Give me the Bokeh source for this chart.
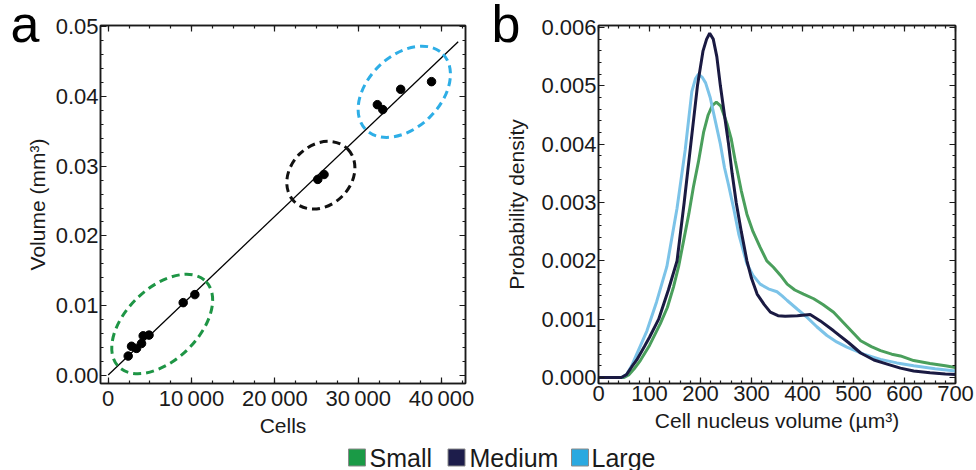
import numpy as np
from bokeh.plotting import figure
from bokeh.models import (Range1d, LinearAxis, FixedTicker, ColumnDataSource)
from bokeh.layouts import column, row
from bokeh.embed import file_html
from bokeh.resources import INLINE
from bokeh.core.properties import value

FONT = "Liberation Sans"
INK = "#1a1a1a"

# ---------------- Panel a data ----------------
cells = [2400, 2800, 3400, 4000, 4200, 4900, 9000, 10400,
         25150, 25900, 32300, 32950, 35100, 38800]
volume = [0.0028, 0.0042, 0.0039, 0.0046, 0.0057, 0.0058, 0.01045, 0.0116,
          0.0281, 0.0288, 0.0388, 0.0381, 0.0410, 0.0421]
fit_intercept = 0.0001
fit_slope = 1.136e-6
fit_cells = [0, 42000]

group_names = ["Small", "Medium", "Large"]
group_center_cells = [6480, 25520, 35530]
group_center_volume = [0.00739, 0.0287, 0.04065]

a_xticks = [0, 10000, 20000, 30000, 40000]
a_xlabels = ["0", "10\u2009000", "20\u2009000", "30\u2009000", "40\u2009000"]
a_yticks = [0, 0.01, 0.02, 0.03, 0.04, 0.05]
a_ylabels = ["0.00", "0.01", "0.02", "0.03", "0.04", "0.05"]

# ---------------- Panel b data ----------------
small_x = [0, 50, 60, 70, 82, 100, 121, 135, 147, 157, 167, 177, 186, 196, 206,
           215, 223, 231, 240, 252, 260, 268, 280, 291, 303, 317, 330, 343, 357,
           370, 385, 402, 422, 440, 461, 487, 514, 535, 553, 575, 592, 618, 650,
           680, 700]
small_y = [0, 0, 0.00005, 0.00015, 0.00029, 0.00055, 0.00092, 0.0012, 0.00155,
           0.0019, 0.00235, 0.0028, 0.00326, 0.0037, 0.0042, 0.0045, 0.00466,
           0.00472, 0.00465, 0.00435, 0.0041, 0.00372, 0.0032, 0.0028, 0.0025,
           0.00223, 0.002, 0.00189, 0.00175, 0.0016, 0.0015, 0.00143, 0.00135,
           0.00125, 0.00112, 0.00088, 0.00063, 0.00053, 0.00046, 0.0004,
           0.00037, 0.00029, 0.00024, 0.0002, 0.00017]

medium_x = [0, 45, 55, 65, 75, 90, 100, 118, 137, 154, 168, 181, 194, 205, 212,
            218, 225, 232, 239, 247, 255, 262, 270, 280, 291, 300, 311, 325, 337,
            352, 366, 390, 415, 435, 461, 490, 514, 540, 566, 592, 618, 650, 680,
            700]
medium_y = [0, 0, 0.00005, 0.00018, 0.0003, 0.00053, 0.00069, 0.001, 0.0015,
            0.002, 0.003, 0.004, 0.005, 0.0056, 0.0058, 0.0059, 0.0058, 0.0055,
            0.005, 0.0045, 0.004, 0.0035, 0.003, 0.0025, 0.002, 0.0017, 0.00143,
            0.00125, 0.00112, 0.00106, 0.00105, 0.00106, 0.00108, 0.00097,
            0.0008, 0.0006, 0.00042, 0.0003, 0.00023, 0.00016, 0.00011,
            0.00008, 0.00006, 0.00005]

large_x = [0, 45, 55, 65, 75, 95, 114, 134, 154, 170, 183, 190, 196, 203, 210,
           219, 229, 239, 247, 255, 265, 275, 283, 291, 303, 317, 333, 350, 360,
           370, 390, 409, 428, 448, 467, 487, 520, 553, 585, 618, 660, 700]
large_y = [0, 0, 0.00005, 0.0002, 0.0004, 0.0008, 0.0013, 0.0019, 0.0029,
           0.0039, 0.0049, 0.00512, 0.0052, 0.00515, 0.00505, 0.0048, 0.0044,
           0.004, 0.0036, 0.0033, 0.0029, 0.00246, 0.0022, 0.00195, 0.00175,
           0.0016, 0.00152, 0.00147, 0.0014, 0.00132, 0.00117, 0.00103,
           0.00087, 0.00072, 0.00061, 0.00052, 0.0004, 0.00031, 0.00025,
           0.0002, 0.00015, 0.00011]

b_xticks = [0, 100, 200, 300, 400, 500, 600, 700]
b_xlabels = ["0", "100", "200", "300", "400", "500", "600", "700"]
b_yticks = [0, 0.001, 0.002, 0.003, 0.004, 0.005, 0.006]
b_ylabels = ["0.000", "0.001", "0.002", "0.003", "0.004", "0.005", "0.006"]

panel_letters = ["a", "b"]

# ---------------- Styles / layout ----------------
legend_colors = ["#1a9a46", "#1d1d4b", "#2aa9e0"]
curve_colors = ["#4a9f5c", "#1a1a42", "#7cc3e8"]
ellipse_colors = ["#1e9545", "#111111", "#2eaee6"]
ellipse_w_px = [122, 75, 108]
ellipse_h_px = [72, 60, 72]
ellipse_angle = 0.77

ROW_H = 442
LEG_H = 470 - ROW_H
legend_square_x = [356.5, 456, 579.5]
legend_text_x = [369, 469, 591]


def minor_list(lo, hi, step):
    return [round(v, 6) for v in np.arange(lo, hi + step / 2, step)]


def style_axis(ax, labels=True):
    ax.axis_line_color = INK
    ax.axis_line_width = 1.5
    ax.major_tick_in = 6
    ax.major_tick_out = 0
    ax.minor_tick_in = 3
    ax.minor_tick_out = 0
    ax.major_tick_line_color = INK
    ax.minor_tick_line_color = INK
    ax.major_tick_line_width = 1.2
    ax.minor_tick_line_width = 1.2
    ax.major_label_text_font = FONT
    ax.major_label_text_color = INK
    ax.axis_label_text_font = FONT
    ax.axis_label_text_font_style = "normal"
    ax.axis_label_text_color = INK
    if labels:
        ax.major_label_text_font_size = "22px"
        ax.major_label_standoff = 2
        ax.axis_label_text_font_size = "21px"
    else:
        ax.major_label_text_font_size = "2px"
        ax.major_label_standoff = 0


def make_panel(xr, yr, xt, xl, xminor, yt, yl, yminor, xlabel, ylabel,
               border_left, border_top, frame_w, frame_h, width,
               xlab_standoff, ylab_standoff, letter, letter_offset, letter_standoff):
    p = figure(width=width, height=ROW_H, x_range=Range1d(*xr), y_range=Range1d(*yr),
               toolbar_location=None, output_backend="svg",
               min_border_left=border_left, min_border_top=border_top,
               min_border_right=width - border_left - frame_w,
               min_border_bottom=ROW_H - border_top - frame_h)
    p.xgrid.visible = False
    p.ygrid.visible = False
    p.outline_line_color = INK
    p.outline_line_width = 1.5
    p.background_fill_color = "white"
    p.border_fill_color = "white"

    # panel letter as the figure title, pulled down beside the frame
    p.title.text = letter
    p.title.text_font = FONT
    p.title.text_font_size = "52px"
    p.title.text_font_style = "normal"
    p.title.text_color = "black"
    p.title.align = "left"
    p.title.vertical_align = "top"
    p.title.offset = letter_offset
    p.title.standoff = letter_standoff

    p.xaxis.ticker = FixedTicker(ticks=xt, minor_ticks=xminor)
    p.yaxis.ticker = FixedTicker(ticks=yt, minor_ticks=yminor)
    p.xaxis.major_label_overrides = dict(zip(xt, xl))
    p.yaxis.major_label_overrides = dict(zip(yt, yl))
    p.xaxis.axis_label = xlabel
    p.yaxis.axis_label = ylabel
    for ax in p.xaxis + p.yaxis:
        style_axis(ax, True)
    p.xaxis.axis_label_standoff = xlab_standoff
    p.yaxis.axis_label_standoff = ylab_standoff

    top = LinearAxis(ticker=FixedTicker(ticks=xt, minor_ticks=xminor),
                     major_label_overrides={t: "" for t in xt})
    right = LinearAxis(ticker=FixedTicker(ticks=yt, minor_ticks=yminor),
                       major_label_overrides={t: "" for t in yt})
    style_axis(top, False)
    style_axis(right, False)
    p.add_layout(top, "above")
    p.add_layout(right, "right")
    return p


# ---------------- Panel a ----------------
pa = make_panel((-924, 42876), (-0.00113, 0.05014),
                a_xticks, a_xlabels, minor_list(-2500, 45000, 2500),
                a_yticks, a_ylabels, minor_list(-0.002, 0.052, 0.002),
                "Cells", "Volume (mm\u00b3)",
                100, 24, 365, 363, 488, 0, 4,
                panel_letters[0], -90, -59)

fit_volume = [fit_intercept + fit_slope * c for c in fit_cells]
pa.line(fit_cells, fit_volume, line_color="black", line_width=1.3)
pa.scatter(cells, volume, size=8.5, fill_color="black", line_color="black")

ell_src = ColumnDataSource(data=dict(
    x=group_center_cells, y=group_center_volume,
    w=ellipse_w_px, h=ellipse_h_px, c=ellipse_colors))
pa.ellipse(x="x", y="y", width="w", height="h", angle=ellipse_angle,
           width_units="screen", height_units="screen", source=ell_src,
           fill_color=None, line_color="c", line_width=3, line_dash="8 5")

# ---------------- Panel b ----------------
pb = make_panel((0, 700), (-0.000103, 0.006034),
                b_xticks, b_xlabels, minor_list(0, 700, 20),
                b_yticks, b_ylabels, minor_list(0, 0.006, 0.0002),
                "Cell nucleus volume (\u00b5m\u00b3)", "Probability density",
                110, 25, 357, 358, 488, 5, 10,
                panel_letters[1], -107, -58)

pb.line(small_x, small_y, line_color=curve_colors[0], line_width=3)
pb.line(large_x, large_y, line_color=curve_colors[2], line_width=3)
pb.line(medium_x, medium_y, line_color=curve_colors[1], line_width=3)

# ---------------- Legend (own strip under both panels) ----------------
pl = figure(width=976, height=LEG_H, x_range=Range1d(0, 976), y_range=Range1d(0, LEG_H),
            toolbar_location=None, output_backend="svg",
            min_border_left=0, min_border_right=0, min_border_top=0, min_border_bottom=0)
pl.axis.visible = False
pl.xgrid.visible = False
pl.ygrid.visible = False
pl.outline_line_color = None
leg_y = LEG_H - 15
pl.rect(x=legend_square_x, y=[leg_y] * 3, width=17, height=17,
        width_units="screen", height_units="screen",
        fill_color=legend_colors, line_color="#8a8a8a", line_width=1)
pl.text(x=legend_text_x, y=[leg_y] * 3, text=group_names,
        text_font=value(FONT), text_font_size="25px", text_color=INK,
        text_baseline="middle", text_align="left")

layout = column(row(pa, pb), pl)
open("out.html", "w").write(file_html(layout, INLINE))
